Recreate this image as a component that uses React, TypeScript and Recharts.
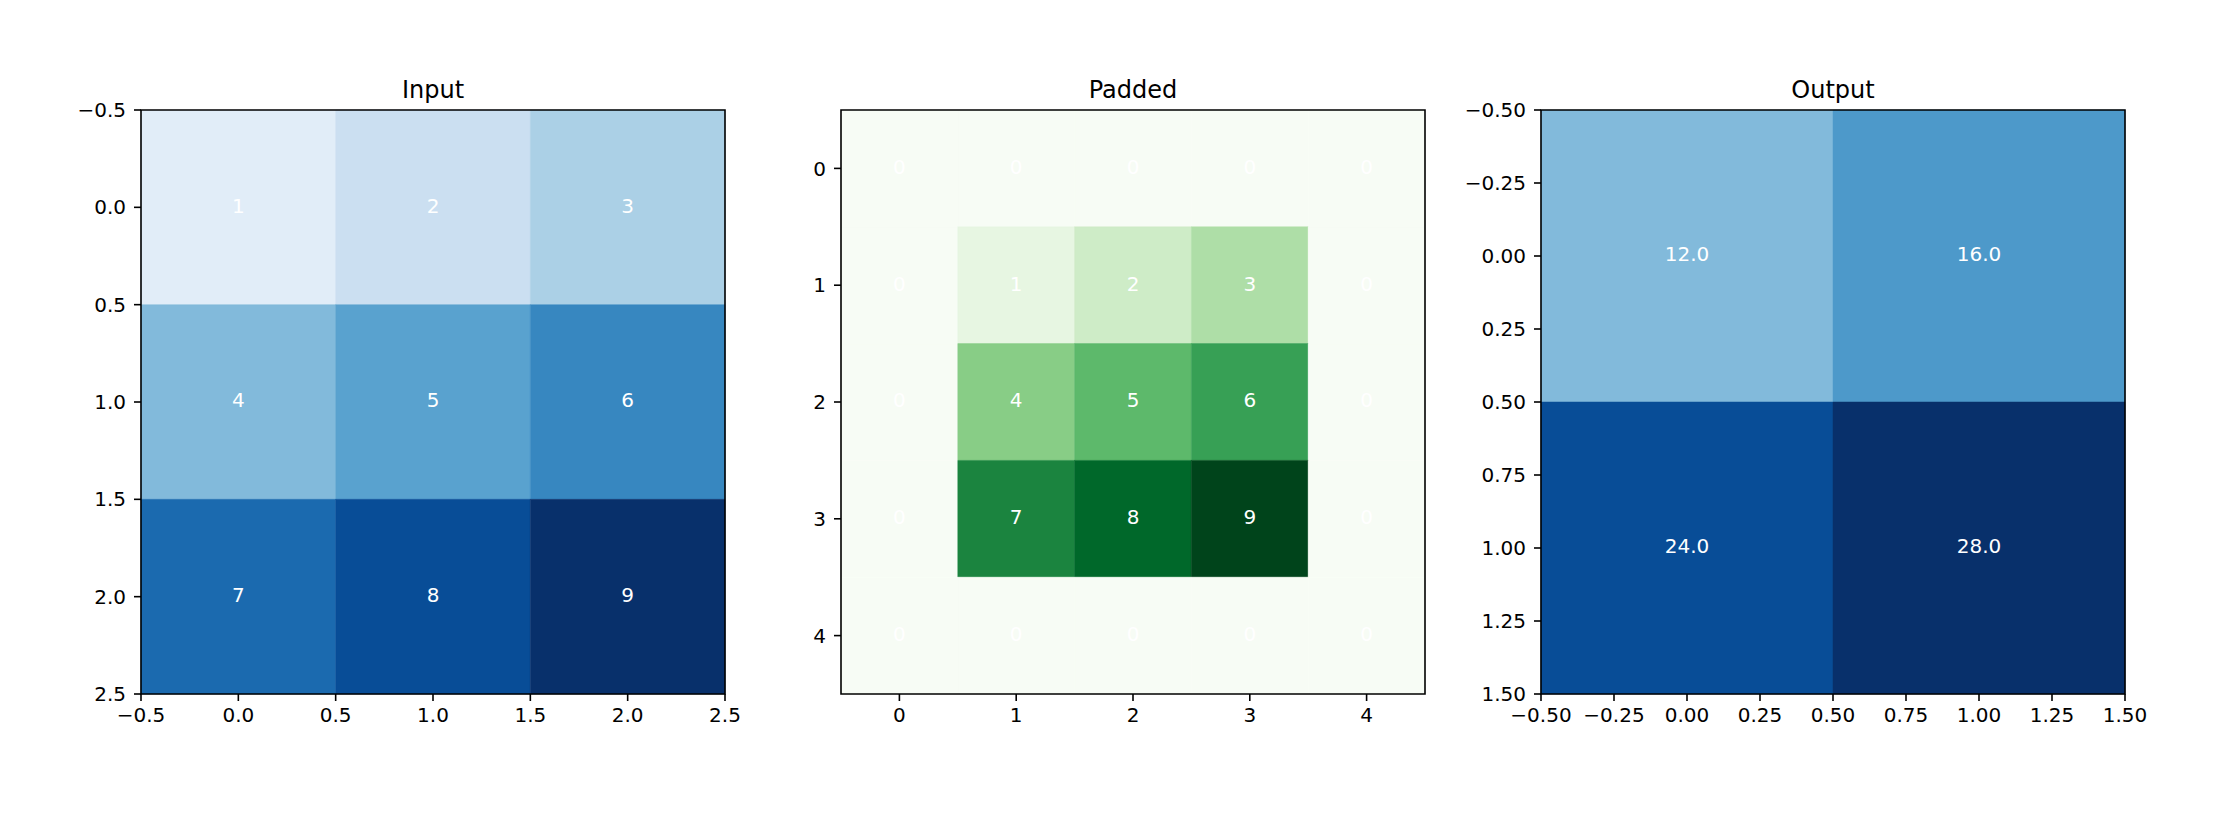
import { ReferenceArea, Scatter, ScatterChart, XAxis, YAxis } from "recharts";

// grid values, row-major (row 0 at the top)
const INPUT_VALUES = [
  [1, 2, 3],
  [4, 5, 6],
  [7, 8, 9],
];
const PADDED_VALUES = [
  [0, 0, 0, 0, 0],
  [0, 1, 2, 3, 0],
  [0, 4, 5, 6, 0],
  [0, 7, 8, 9, 0],
  [0, 0, 0, 0, 0],
];
const OUTPUT_VALUES = [
  [12, 16],
  [24, 28],
];

const INPUT_TICKS = [-0.5, 0, 0.5, 1, 1.5, 2, 2.5];
const PADDED_TICKS = [0, 1, 2, 3, 4];
const OUTPUT_TICKS = [-0.5, -0.25, 0, 0.25, 0.5, 0.75, 1, 1.25, 1.5];

const TITLES = ["Input", "Padded", "Output"];

// matplotlib colormap stops
const BLUES = ["#f7fbff", "#deebf7", "#c6dbef", "#9ecae1", "#6baed6", "#4292c6", "#2171b5", "#08519c", "#08306b"];
const GREENS = ["#f7fcf5", "#e5f5e0", "#c7e9c0", "#a1d99b", "#74c476", "#41ab5d", "#238b45", "#006d2c", "#00441b"];

const FONT = "'DejaVu Sans', sans-serif";
const TICK_STYLE = { fill: "#000", fontSize: 20, fontFamily: FONT };
const LINE_STYLE = { stroke: "#000", strokeWidth: 1.6 };

const PANEL_STEP = 700;
const PLOT_LEFT = 141;
const PLOT_SIZE = 584;

function hexToRgb(h: string) {
  return [1, 3, 5].map((i) => parseInt(h.slice(i, i + 2), 16));
}

/** Linear interpolation through the colormap stops, like matplotlib does. */
function colorAt(stops: string[], t: number): string {
  const c = Math.max(0, Math.min(1, t)) * (stops.length - 1);
  const i = Math.min(Math.floor(c), stops.length - 2);
  const f = c - i;
  const a = hexToRgb(stops[i]);
  const b = hexToRgb(stops[i + 1]);
  const rgb = a.map((v, k) => Math.round(v + (b[k] - v) * f));
  return `rgb(${rgb.join(",")})`;
}

function fmt(v: number, decimals: number): string {
  return v.toFixed(decimals).replace("-", "\u2212");
}

function Heatmap({
  values,
  ticks,
  tickDecimals,
  cellDecimals,
  stops,
  vmax,
}: {
  values: number[][];
  ticks: number[];
  tickDecimals: number;
  cellDecimals: number;
  stops: string[];
  vmax: number;
}) {
  const n = values.length;
  const lo = -0.5;
  const hi = n - 0.5;
  const cells = values.flatMap((row, i) => row.map((v, j) => ({ x: j, y: i, v })));

  return (
    <ScatterChart
      width={760}
      height={837}
      margin={{ top: 110, right: 760 - PLOT_LEFT - PLOT_SIZE, bottom: 837 - 110 - PLOT_SIZE - 60, left: PLOT_LEFT - 90 }}
    >
      <XAxis
        type="number"
        dataKey="x"
        domain={[lo, hi]}
        ticks={ticks}
        allowDataOverflow
        interval={0}
        height={60}
        tickSize={7}
        tickMargin={7}
        tick={TICK_STYLE}
        tickLine={LINE_STYLE}
        axisLine={false}
        tickFormatter={(t: number) => fmt(t, tickDecimals)}
      />
      <YAxis
        type="number"
        dataKey="y"
        domain={[lo, hi]}
        ticks={ticks}
        reversed
        allowDataOverflow
        interval={0}
        width={90}
        tickSize={7}
        tickMargin={8}
        tick={TICK_STYLE}
        tickLine={LINE_STYLE}
        axisLine={false}
        tickFormatter={(t: number) => fmt(t, tickDecimals)}
      />
      {cells.map((c) => {
        const color = colorAt(stops, c.v / vmax);
        return (
          <ReferenceArea
            key={`${c.x}-${c.y}`}
            x1={c.x - 0.5}
            x2={c.x + 0.5}
            y1={c.y - 0.5}
            y2={c.y + 0.5}
            fill={color}
            fillOpacity={1}
            stroke={color}
            strokeWidth={0.5}
            ifOverflow="visible"
          />
        );
      })}
      <ReferenceArea x1={lo} x2={hi} y1={lo} y2={hi} fill="none" fillOpacity={0} stroke="#000" strokeWidth={1.6} />
      <Scatter
        data={cells}
        isAnimationActive={false}
        shape={(p: any) => (
          <text x={p.cx} y={p.cy} dy={5.3} textAnchor="middle" fill="#fff" fontSize={20} fontFamily={FONT}>
            {p.payload.v.toFixed(cellDecimals)}
          </text>
        )}
      />
    </ScatterChart>
  );
}

export default function App() {
  const panels = [
    <Heatmap key="in" values={INPUT_VALUES} ticks={INPUT_TICKS} tickDecimals={1} cellDecimals={0} stops={BLUES} vmax={9} />,
    <Heatmap key="pad" values={PADDED_VALUES} ticks={PADDED_TICKS} tickDecimals={0} cellDecimals={0} stops={GREENS} vmax={9} />,
    <Heatmap key="out" values={OUTPUT_VALUES} ticks={OUTPUT_TICKS} tickDecimals={2} cellDecimals={1} stops={BLUES} vmax={27} />,
  ];

  return (
    <div style={{ position: "absolute", left: 0, top: 0, width: 2220, height: 837, background: "#fff", fontFamily: FONT }}>
      <svg width={2220} height={837} style={{ position: "absolute", left: 0, top: 0 }}>
        {TITLES.map((t, i) => (
          <text
            key={t}
            x={PANEL_STEP * i + PLOT_LEFT + PLOT_SIZE / 2}
            y={98}
            textAnchor="middle"
            fontSize={24}
            fontFamily={FONT}
            fill="#000"
          >
            {t}
          </text>
        ))}
      </svg>
      {panels.map((p, i) => (
        <div key={i} style={{ position: "absolute", left: PANEL_STEP * i, top: 0 }}>
          {p}
        </div>
      ))}
    </div>
  );
}
